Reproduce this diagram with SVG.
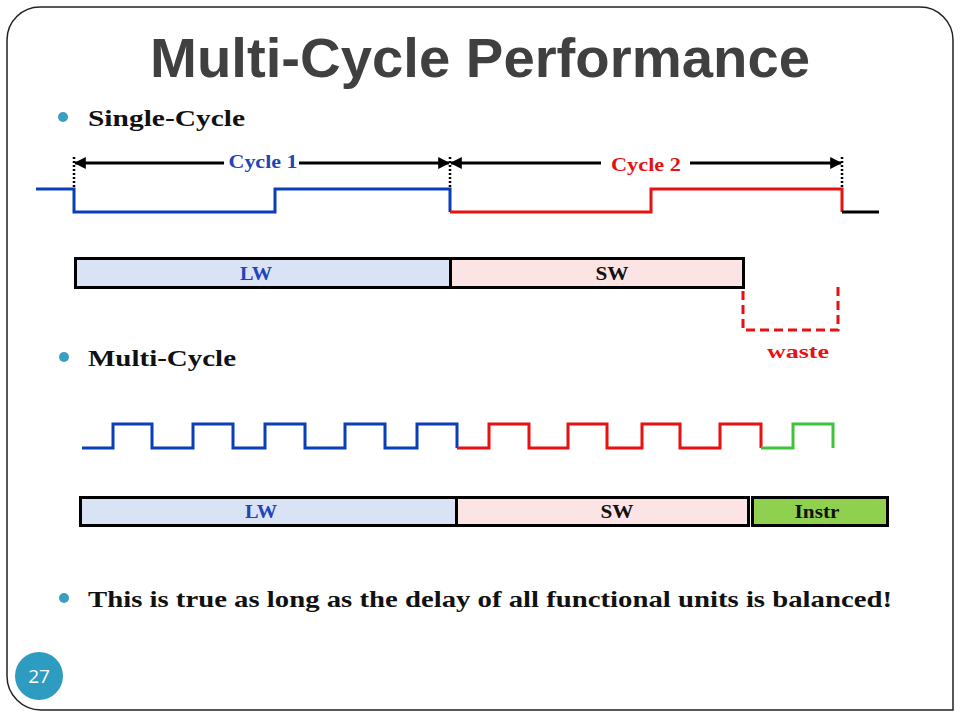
<svg xmlns="http://www.w3.org/2000/svg" width="960" height="720" viewBox="0 0 960 720">
<style>
.title{font-family:"Liberation Sans",Arial,sans-serif;font-weight:bold;font-size:56px;fill:#404040}
.bul{font-family:"Liberation Serif","Times New Roman",serif;font-weight:bold;font-size:24px;fill:#111}
.lbl{font-family:"Liberation Serif","Times New Roman",serif;font-weight:bold;font-size:19px;text-anchor:middle}
.bar{stroke:#000;stroke-width:3}
.wave{fill:none;stroke-width:3;stroke-linejoin:miter}
.dot{stroke:#000;stroke-width:2.5;stroke-dasharray:2 2}
.arr{stroke:#000;stroke-width:3}
</style>
<defs>
<marker id="ah" viewBox="0 0 10 10" refX="9" refY="5" markerWidth="4" markerHeight="4" orient="auto-start-reverse"><path d="M0,0 L10,5 L0,10 z" fill="#000"/></marker>
</defs>
<rect width="960" height="720" fill="#fff"/>
<path d="M41,7 H920 A33,33 0 0 1 953,40 V710 H41 A34,34 0 0 1 7,676 V40 A33,33 0 0 1 41,7 Z" fill="none" stroke="#222" stroke-width="1.5"/>
<text class="title" x="480" y="77" text-anchor="middle" textLength="660" lengthAdjust="spacingAndGlyphs">Multi-Cycle Performance</text>

<g id="bullets">
<circle cx="63" cy="117" r="5" fill="#3a9fc1"/>
<text class="bul" x="88" y="126" textLength="157" lengthAdjust="spacingAndGlyphs">Single-Cycle</text>
<circle cx="64" cy="357" r="5" fill="#3a9fc1"/>
<text class="bul" x="88" y="366" textLength="148" lengthAdjust="spacingAndGlyphs">Multi-Cycle</text>
<circle cx="64" cy="598" r="5" fill="#3a9fc1"/>
<text class="bul" x="88" y="607" textLength="804" lengthAdjust="spacingAndGlyphs">This is true as long as the delay of all functional units is balanced!</text>
</g>

<g id="connectors">
<line class="dot" x1="74" y1="157" x2="74" y2="189"/>
<line class="dot" x1="450" y1="157" x2="450" y2="189"/>
<line class="dot" x1="842" y1="157" x2="842" y2="189"/>
<line class="arr" x1="75" y1="163" x2="224" y2="163" marker-start="url(#ah)"/>
<line class="arr" x1="299" y1="163" x2="449" y2="163" marker-end="url(#ah)"/>
<line class="arr" x1="451" y1="163" x2="601" y2="163" marker-start="url(#ah)"/>
<line class="arr" x1="690" y1="163" x2="841" y2="163" marker-end="url(#ah)"/>
</g>

<g id="cycle-labels">
<text class="lbl" x="263" y="168" fill="#1f45b8" textLength="69" lengthAdjust="spacingAndGlyphs">Cycle 1</text>
<text class="lbl" x="646" y="171" fill="#e81010" textLength="70" lengthAdjust="spacingAndGlyphs">Cycle 2</text>
</g>

<g id="single-wave">
<path class="wave" stroke="#0a3db8" d="M36,189 H74 V212 H275 V189 H450 V212"/>
<path class="wave" stroke="#e81010" d="M450,212 H651 V189 H842 V212"/>
<path class="wave" stroke="#000" d="M842,212 H879"/>
</g>

<g id="single-bars">
<rect class="bar" x="75.5" y="258.5" width="375" height="29" fill="#dae3f5"/>
<text class="lbl" x="256" y="280" fill="#1f45b8" textLength="32" lengthAdjust="spacingAndGlyphs">LW</text>
<rect class="bar" x="450.5" y="258.5" width="293" height="29" fill="#fde4e4"/>
<text class="lbl" x="612" y="280" fill="#111" textLength="33" lengthAdjust="spacingAndGlyphs">SW</text>
</g>

<g id="waste">
<path d="M743,291 V330 H838 V287" fill="none" stroke="#e81010" stroke-width="3" stroke-dasharray="9 5"/>
<text class="lbl" x="798" y="358" fill="#e81010" textLength="62" lengthAdjust="spacingAndGlyphs">waste</text>
</g>

<g id="multi-wave">
<path class="wave" stroke="#0a3db8" d="M82,448 H113 V424 H152 V448 H193 V424 H233 V448 H265 V424 H305 V448 H345 V424 H385 V448 H417 V424 H457 V448"/>
<path class="wave" stroke="#e81010" d="M457,448 H489 V424 H529 V448 H568 V424 H607 V448 H642 V424 H680 V448 H720 V424 H761 V448"/>
<path class="wave" stroke="#3cc43c" d="M761,448 H793 V424 H833 V448"/>
</g>

<g id="multi-bars">
<rect class="bar" x="80.5" y="497.5" width="376" height="28" fill="#dae3f5"/>
<text class="lbl" x="261" y="518" fill="#1f45b8" textLength="32" lengthAdjust="spacingAndGlyphs">LW</text>
<rect class="bar" x="456.5" y="497.5" width="292" height="28" fill="#fde4e4"/>
<text class="lbl" x="617" y="518" fill="#111" textLength="33" lengthAdjust="spacingAndGlyphs">SW</text>
<rect class="bar" x="752.5" y="497.5" width="135" height="28" fill="#8fd14f"/>
<text class="lbl" x="817" y="518" fill="#111" textLength="45" lengthAdjust="spacingAndGlyphs">Instr</text>
</g>

<g id="page-number">
<circle cx="39" cy="676" r="24" fill="#2e9cc0"/>
<text x="39" y="683" text-anchor="middle" font-family="'Open Sans','Liberation Sans',sans-serif" font-size="19" fill="#fff">27</text>
</g>
</svg>
